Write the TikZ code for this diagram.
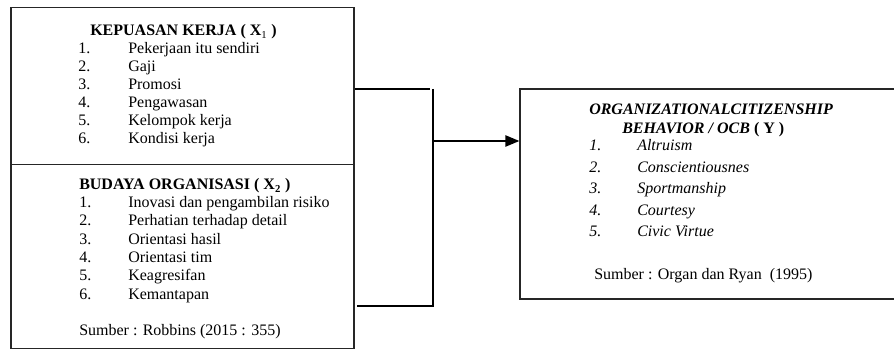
\documentclass[tikz,border=0pt]{standalone}
\usepackage{fontspec}
\setmainfont{Liberation Serif}
\usetikzlibrary{fit,arrows.meta}
\begin{document}
\begin{tikzpicture}[x=0.75pt,y=-0.75pt,
  box/.style={draw=black!85,line width=0.8pt,inner sep=0pt},
  txt/.style={inner sep=0pt,anchor=base west,font=\fontsize{12}{14}\selectfont},
  ctxt/.style={inner sep=0pt,anchor=base,font=\fontsize{12}{14}\selectfont},
  conn/.style={line width=1.6pt},
  arr/.style={line width=1.6pt,-{Triangle[length=10.5pt,width=8.25pt]}}]
\clip (0,0) rectangle (894,349);
\fill[white] (0,0) rectangle (894,349);
% boxes
\node[box,fit={(11,7.5)(354,164.5)}] (k) {};
\node[box,fit={(11,164.5)(354,348.5)}] (b) {};
\node[box,fit={(520,89)(910,299)}] (y) {};
% left top text
\node[ctxt] (kt) at (183.5,36) {\textbf{KEPUASAN KERJA ( X\textsubscript{\normalfont 1} )}};
\foreach \n/\t [count=\i] in {1/Pekerjaan itu sendiri,2/Gaji,3/Promosi,4/Pengawasan,5/Kelompok kerja,6/Kondisi kerja}{
  \node[txt] (kn\i) at (78,{53.3+(\i-1)*18}) {\n.};
  \node[txt] (ki\i) at (128,{53.3+(\i-1)*18}) {\t};
}
% left bottom text
\node[txt] (bt) at (79,190) {\textbf{BUDAYA ORGANISASI ( X\textsubscript{2} )}};
\foreach \n/\t [count=\i] in {1/Inovasi dan pengambilan risiko,2/Perhatian terhadap detail,3/Orientasi hasil,4/Orientasi tim,5/Keagresifan,6/Kemantapan}{
  \node[txt] (bn\i) at (79,{207.7+(\i-1)*18.3}) {\n.};
  \node[txt] (bi\i) at (128,{207.7+(\i-1)*18.3}) {\t};
}
\node[txt] (bs) at (79,336) {Sumber : Robbins (2015 : 355)};
% right text
\node[txt] (yt1) at (589,115) {\textbf{\textit{ORGANIZATIONALCITIZENSHIP}}};
\node[txt] (yt2) at (622,133.3) {\textbf{\textit{BEHAVIOR / OCB} ( Y )}};
\foreach \n/\t [count=\i] in {1/Altruism,2/Conscientiousnes,3/Sportmanship,4/Courtesy,5/Civic Virtue}{
  \node[txt] (yn\i) at (589,{151+(\i-1)*21.4}) {\textit{\n.}};
  \node[txt] (yi\i) at (637,{151+(\i-1)*21.4}) {\textit{\t}};
}
\node[txt] (ys) at (594,280) {Sumber : Organ dan Ryan~ (1995)};
% connectors
\coordinate (j1) at (433,89);
\coordinate (j1a) at (430,89);
\coordinate (j2) at (433,306);
\coordinate (j3) at (433,141);
\draw[conn] (k.east |- j1) -- (j1a);
\draw[conn] (j1) -- (j2) -- ([xshift=1.5pt]b.east |- j2);
\draw[arr] (j3) -- (y.west |- j3);
\end{tikzpicture}
\end{document}
